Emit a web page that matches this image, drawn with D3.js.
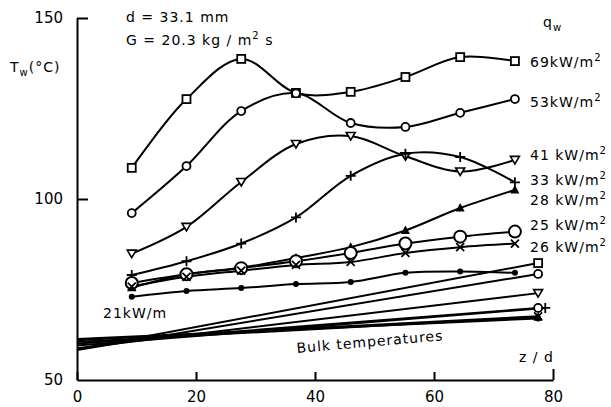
<!DOCTYPE html>
<meta charset="utf-8">
<style>
body { margin: 0; background: #fff; }
svg { display: block; font-family: "DejaVu Sans", sans-serif; }
.axis path, .axis line { stroke: #000; stroke-width: 2px; }
.axis text { font-size: 15px; fill: #000; font-family: "DejaVu Sans", sans-serif; }
.line { fill: none; stroke: #000; stroke-width: 2px; }
.lbl { font-size: 14px; letter-spacing: 1px; fill: #000; }
</style>
<svg width="611" height="407"></svg>
<script src="https://cdn.jsdelivr.net/npm/d3@7"></script>
<script>
// axial positions (z/d) of the wall thermocouples
var zPts = [9.2, 18.4, 27.6, 36.8, 46, 55.2, 64.4, 73.6];

// wall temperatures Tw (°C), one list per heat flux
var t69 = [108.6, 127.6, 138.7, 129.3, 129.6, 133.7, 139.2, 138.1];
var t53 = [96.1, 109.1, 124.3, 129.2, 121.0, 119.9, 123.8, 127.6];
var t41 = [84.9, 92.3, 104.7, 115.2, 117.4, 111.8, 107.6, 110.8];
var t33 = [79.0, 82.8, 87.7, 94.9, 106.4, 112.5, 111.6, 104.6];
var t28 = [75.5, 79.2, 81.0, 83.7, 86.7, 91.3, 97.5, 102.5];
var t25 = [76.8, 79.2, 80.9, 82.8, 85.1, 87.7, 89.6, 91.0];
var t26 = [75.8, 78.5, 80.2, 81.8, 82.6, 85.1, 86.7, 87.7];
var t21 = [73.0, 74.6, 75.4, 76.5, 77.1, 79.6, 80.0, 79.6];

// bulk temperatures: inlet value at z/d = 0 and outlet value at the end
var bulkIn  = [58.5, 58.3, 58.8, 59.5, 60.5, 60.0, 61.0, 61.3];
var bulkOut = [82.3, 79.3, 74.0, 69.9, 67.4, 69.9, 67.6, 67.0];
var bulkEndZ = [77.5, 77.5, 77.5, 78.7, 77.5, 77.5, 77.5, 77.5];

var fluxes  = ["69", "53", "41", "33", "28", "25", "26", "21"];
var markers = ["sq", "o", "itri", "plus", "tri", "O", "x", "dot"];
var bulkMarkers = ["sq", "o", "itri", "plus", "tri", "o", "x", "dot"];
var yTicks = [50, 100, 150];
var xTicks = [0, 20, 40, 60, 80];

var series = [t69, t53, t41, t33, t28, t25, t26, t21];

var svg = d3.select("svg");

var x = d3.scaleLinear().domain([0, 80]).range([77, 553]),
    y = d3.scaleLinear().domain([50, 150]).range([380, 18]);

//axes
svg.append("g")
    .attr("class", "axis")
    .attr("transform", "translate(" + x(0) + ",0)")
    .call(d3.axisLeft(y).tickValues(yTicks).tickSize(-11).tickSizeOuter(0).tickPadding(14));

svg.append("g")
    .attr("class", "axis")
    .attr("transform", "translate(0," + y(50) + ")")
    .call(d3.axisBottom(x).tickValues(xTicks).tickSize(-8).tickSizeOuter(0).tickPadding(11));

svg.selectAll(".axis .domain").attr("fill", "none");
// longer end tick at 80
svg.selectAll(".axis .tick line").filter(function(d) { return d === 80; }).attr("y2", -11);
svg.selectAll(".axis .tick line").filter(function(d) { return d === 50; }).remove();

var line = d3.line()
    .curve(d3.curveCatmullRom.alpha(0.5))
    .x(function(d) { return x(d[0]); })
    .y(function(d) { return y(d[1]); });

//bulk lines
fluxes.forEach(function(f, i) {
  svg.append("path")
      .attr("class", "line")
      .attr("d", d3.line().x(function(d) { return x(d[0]); }).y(function(d) { return y(d[1]); })
        ([[0, bulkIn[i]], [bulkEndZ[i], bulkOut[i]]]));
});

//wall temperature curves
series.forEach(function(s) {
  svg.append("path")
      .attr("class", "line")
      .attr("d", line(zPts.map(function(z, j) { return [z, s[j]]; })));
});

function drawMarker(type, cx, cy) {
  var g = svg.append("g").attr("transform", "translate(" + cx + "," + cy + ")");
  if (type === "sq") {
    g.append("rect").attr("x", -4).attr("y", -4).attr("width", 8).attr("height", 8)
      .attr("fill", "#fff").attr("stroke", "#000").attr("stroke-width", 1.8);
  } else if (type === "o") {
    g.append("circle").attr("r", 4).attr("fill", "#fff").attr("stroke", "#000").attr("stroke-width", 1.8);
  } else if (type === "O") {
    g.append("circle").attr("r", 6).attr("fill", "#fff").attr("stroke", "#000").attr("stroke-width", 2);
  } else if (type === "dot") {
    g.append("circle").attr("r", 3).attr("fill", "#000");
  } else if (type === "tri") {
    g.append("path").attr("d", "M0,-5L4.5,3.5L-4.5,3.5Z").attr("fill", "#000");
  } else if (type === "itri") {
    g.append("path").attr("d", "M0,4L4.5,-3.5L-4.5,-3.5Z")
      .attr("fill", "#fff").attr("stroke", "#000").attr("stroke-width", 1.6);
  } else if (type === "plus") {
    g.append("path").attr("d", "M-5,0H5M0,-5V5").attr("stroke", "#000").attr("stroke-width", 1.8);
  } else if (type === "x") {
    g.append("path").attr("d", "M-4,-4L4,4M-4,4L4,-4").attr("stroke", "#000").attr("stroke-width", 1.8);
  }
}

//markers on bulk ends, then on the wall curves
fluxes.forEach(function(f, i) {
  drawMarker(bulkMarkers[i], x(bulkEndZ[i]), y(bulkOut[i]));
});
series.forEach(function(s, i) {
  zPts.forEach(function(z, j) { drawMarker(markers[i], x(z), y(s[j])); });
});

//texts
function label(tx, ty, parts) {
  var t = svg.append("text").attr("x", tx).attr("y", ty).attr("class", "lbl");
  var shift = 0;
  parts.forEach(function(p) {
    var ts = t.append("tspan").text(p[0]);
    if (p[1] === "sup") { ts.attr("font-size", "10px").attr("dy", -6 - shift); shift = -6; }
    else if (p[1] === "sub") { ts.attr("font-size", "10px").attr("dy", 4 - shift); shift = 4; }
    else if (shift !== 0) { ts.attr("dy", -shift); shift = 0; }
  });
  return t;
}

label(126, 22, [["d = 33.1 mm"]]);
label(126, 45, [["G = 20.3 kg / m"], ["2", "sup"], [" s"]]);
label(10, 72, [["T"], ["w", "sub"], ["(°C)"]]);
label(543, 27, [["q"], ["w", "sub"]]);

var qLabels = ["69kW/m", "53kW/m", "41 kW/m", "33 kW/m", "28 kW/m", "25 kW/m", "26 kW/m"];
var qLabelY = [67, 107, 160, 185, 205, 230, 252];
qLabels.forEach(function(q, i) {
  label(530, qLabelY[i], [[q], ["2", "sup"]]);
});

label(103, 318, [["21kW/m"]]);

svg.append("text")
    .attr("class", "lbl")
    .attr("transform", "translate(297,353) rotate(-5)")
    .text("Bulk temperatures");

label(519, 362, [["z / d"]]);
</script>
